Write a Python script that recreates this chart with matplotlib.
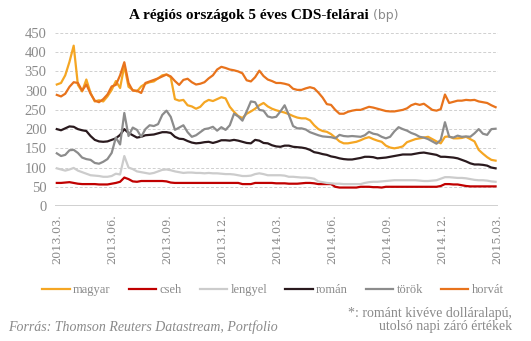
import matplotlib
matplotlib.use("Agg")
import matplotlib.pyplot as plt
import pandas as pd

dates = pd.date_range("2013-03-01", periods=105, freq="7D")

magyar = [316, 320, 340, 375, 417, 315, 298, 329, 294, 272, 275, 272, 285, 302, 325, 307, 365, 310, 302, 298,
          311, 318, 322, 324, 332, 340, 342, 335, 278, 274, 276, 262, 259, 253, 258, 270, 276, 273, 278, 283,
          280, 258, 245, 234, 229, 240, 246, 253, 262, 268, 259, 253, 249, 246, 243, 239, 234, 230, 228, 228,
          223, 210, 200, 195, 193, 187, 178, 168, 163, 163, 165, 167, 171, 176, 179, 174, 170, 167, 157, 152,
          150, 152, 155, 166, 170, 174, 176, 178, 180, 174, 168, 163, 180, 181, 176, 176, 177, 180, 174, 168,
          146, 136, 127, 120, 118]
cseh = [60, 60, 61, 62, 60, 58, 57, 57, 57, 57, 56, 56, 56, 58, 60, 63, 74, 70, 64, 63,
        65, 65, 65, 65, 65, 65, 64, 61, 60, 60, 60, 60, 60, 60, 60, 60, 60, 60, 60, 60,
        60, 60, 60, 60, 57, 57, 57, 60, 60, 60, 60, 60, 59, 59, 59, 58, 58, 58, 59, 60,
        60, 59, 57, 57, 57, 57, 50, 48, 48, 48, 48, 48, 50, 50, 50, 49, 49, 48, 50, 50,
        50, 50, 50, 50, 50, 50, 50, 50, 50, 50, 50, 52, 57, 57, 56, 56, 54, 52, 51, 51,
        51, 51, 51, 51, 51]
lengyel = [98, 95, 92, 95, 99, 92, 88, 84, 80, 79, 78, 76, 76, 78, 84, 82, 130, 100, 96, 90,
           88, 86, 84, 86, 90, 94, 95, 93, 90, 88, 86, 87, 87, 86, 86, 85, 86, 85, 85, 84,
           83, 83, 82, 80, 78, 78, 79, 83, 85, 83, 80, 80, 80, 80, 79, 76, 76, 75, 74, 74,
           73, 71, 64, 62, 60, 59, 58, 58, 57, 57, 57, 57, 57, 60, 62, 63, 63, 64, 65, 66,
           67, 67, 67, 67, 67, 67, 66, 65, 65, 66, 67, 71, 75, 75, 74, 73, 73, 72, 70, 68,
           67, 67, 66, 64, 63]
roman = [200, 197, 202, 207, 206, 200, 197, 195, 182, 172, 168, 167, 168, 172, 176, 185, 200, 190, 184, 178,
         180, 184, 185, 186, 189, 192, 192, 190, 180, 175, 174, 169, 165, 163, 164, 166, 167, 164, 167, 171,
         171, 170, 172, 170, 167, 164, 163, 172, 170, 164, 163, 158, 155, 154, 157, 157, 154, 153, 152, 150,
         146, 140, 138, 135, 133, 129, 127, 124, 122, 121, 121, 123, 125, 128, 128, 127, 124, 125, 126, 128,
         130, 132, 134, 134, 134, 136, 138, 139, 137, 135, 133, 128, 128, 127, 126, 124, 120, 116, 111, 108,
         108, 107, 105, 100, 98]
torok = [137, 130, 133, 145, 146, 138, 126, 122, 120, 112, 110, 115, 122, 138, 178, 160, 242, 182, 204, 198,
         180, 200, 210, 208, 213, 237, 248, 232, 198, 204, 210, 192, 180, 184, 192, 200, 202, 206, 196, 205,
         198, 210, 240, 233, 222, 246, 272, 270, 250, 248, 233, 230, 232, 246, 262, 237, 208, 202, 202, 199,
         192, 188, 184, 181, 180, 179, 176, 185, 182, 181, 182, 181, 180, 184, 193, 188, 186, 180, 176, 180,
         194, 205, 200, 196, 190, 186, 180, 178, 174, 168, 162, 172, 218, 180, 178, 183, 180, 181, 180, 189,
         200, 188, 185, 200, 201]
horvat = [289, 285, 292, 310, 322, 320, 300, 316, 292, 274, 270, 278, 290, 311, 315, 340, 374, 320, 300, 300,
          294, 320, 324, 328, 332, 337, 342, 337, 325, 315, 328, 331, 322, 316, 318, 322, 332, 340, 355, 362,
          359, 355, 353, 350, 345, 327, 324, 335, 352, 338, 329, 325, 320, 320, 318, 315, 305, 302, 302, 306,
          309, 306, 295, 282, 265, 263, 250, 240, 240, 245, 248, 250, 250, 254, 258, 256, 253, 250, 247, 246,
          246, 248, 250, 254, 262, 266, 263, 266, 258, 250, 248, 252, 290, 268, 271, 274, 274, 276, 275, 276,
          272, 270, 268, 262, 257]

series_names = ["magyar", "cseh", "lengyel", "román", "török", "horvát"]
series_values = [magyar, cseh, lengyel, roman, torok, horvat]
colors = ["#F5A623", "#C00000", "#CCCCCC", "#2A1A1E", "#8C8C8C", "#E8731C"]

tick_dates = pd.to_datetime(["2013-03-01", "2013-06-01", "2013-09-01", "2013-12-01", "2014-03-01",
                             "2014-06-01", "2014-09-01", "2014-12-01", "2015-03-01"])
tick_labels = ["2013.03.", "2013.06.", "2013.09.", "2013.12.", "2014.03.",
               "2014.06.", "2014.09.", "2014.12.", "2015.03."]
yticks = [0, 50, 100, 150, 200, 250, 300, 350, 400, 450]

serif = ["Liberation Serif", "DejaVu Serif"]
gray = "#8a8a8a"

fig = plt.figure(figsize=(5.31, 3.41), dpi=100)
ax = fig.add_axes([55 / 531, 1 - 206 / 341, (498 - 55) / 531, (206 - 33) / 341])

for name, vals, c in zip(series_names, series_values, colors):
    ax.plot(dates, vals, color=c, lw=1.6, label=name, solid_joinstyle="round")

ax.set_ylim(0, 450)
ax.set_xlim(pd.Timestamp("2013-02-26"), pd.Timestamp("2015-03-03"))
ax.set_yticks(yticks)
ax.set_yticklabels([str(v) for v in yticks], fontfamily=serif, fontsize=10.5, color=gray)
ax.set_xticks(tick_dates)
ax.set_xticklabels(tick_labels, rotation=90, fontfamily=["DejaVu Serif"], fontsize=8, color=gray)
ax.tick_params(axis="both", length=0, pad=6)
for v in yticks[1:]:
    ax.axhline(v, color="#d0d0d0", lw=0.7, ls=(0, (3, 2)), zorder=0)
ax.axhline(0, color="#c8c8c8", lw=1.2, zorder=0)
for s in ax.spines.values():
    s.set_visible(False)

handles, labels = ax.get_legend_handles_labels()
fig.legend(handles, labels, loc="center", bbox_to_anchor=(273 / 531, 1 - 290 / 341), ncol=6,
           frameon=False, handlelength=2.2, handletextpad=0.25, columnspacing=1.45,
           prop={"family": serif, "size": 9}, labelcolor=gray)

# title in two parts
t1 = fig.text(0, 1 - 15 / 341, "A régiós országok 5 éves CDS-felárai", fontfamily=serif,
              fontweight="bold", fontsize=11, color="black", va="center", ha="left")
t2 = fig.text(0, 1 - 15 / 341, " (bp)", fontfamily=["DejaVu Sans"], fontsize=9, color=gray,
              va="center", ha="left")
fig.canvas.draw()
r = fig.canvas.get_renderer()
w1 = t1.get_window_extent(r).width
w2 = t2.get_window_extent(r).width
x0 = (264 - (w1 + w2) / 2)
t1.set_x(x0 / 531)
t2.set_x((x0 + w1) / 531)

fig.text(8 / 531, 1 - 327 / 341, "Forrás: Thomson Reuters Datastream, Portfolio", fontfamily=serif,
         fontstyle="italic", fontsize=10, color=gray, va="center", ha="left")
fig.text(512 / 531, 1 - 320 / 341, "*: románt kivéve dolláralapú,\nutolsó napi záró értékek",
         fontfamily=serif, fontsize=10, color=gray, va="center", ha="right", linespacing=1.05,
         multialignment="right")

fig.savefig("out.png", dpi=100)
